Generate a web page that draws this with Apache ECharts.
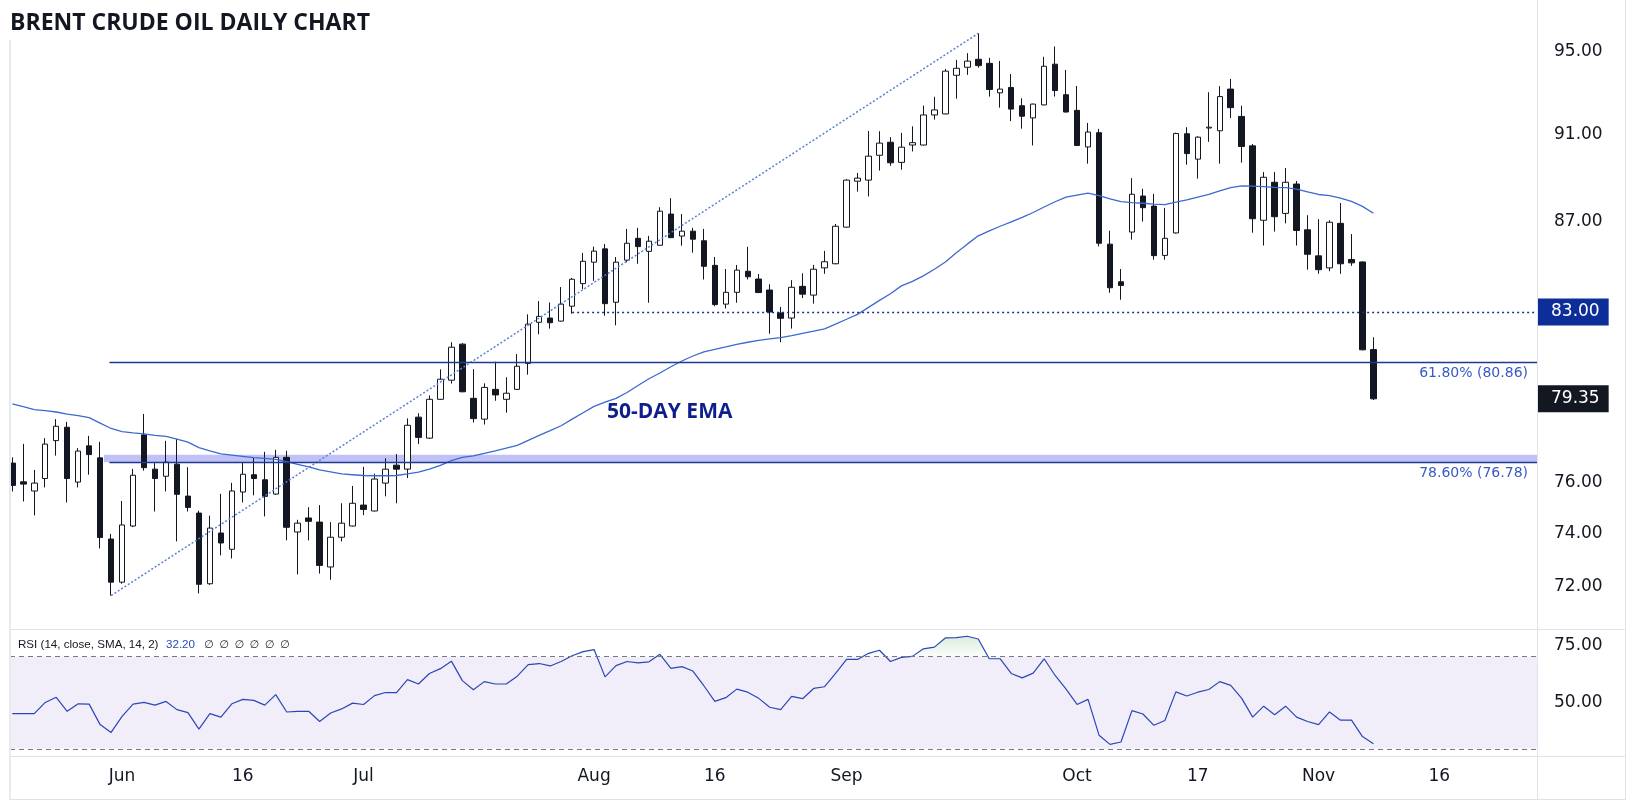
<!DOCTYPE html>
<html>
<head>
<meta charset="utf-8">
<script src="https://cdn.jsdelivr.net/npm/echarts@6/dist/echarts.min.js"></script>
<style>
html,body{margin:0;padding:0;background:#fff;}
#chart{width:1634px;height:802px;}
</style>
</head>
<body>
<div id="chart"></div>
<script>
const dates = [
'2023-05-18','2023-05-19','2023-05-22','2023-05-23','2023-05-24','2023-05-25','2023-05-26','2023-05-29','2023-05-30','2023-05-31',
'2023-06-01','2023-06-02','2023-06-05','2023-06-06','2023-06-07','2023-06-08','2023-06-09','2023-06-12','2023-06-13','2023-06-14',
'2023-06-15','2023-06-16','2023-06-19','2023-06-20','2023-06-21','2023-06-22','2023-06-23','2023-06-26','2023-06-27','2023-06-28',
'2023-06-29','2023-06-30','2023-07-03','2023-07-04','2023-07-05','2023-07-06','2023-07-07','2023-07-10','2023-07-11','2023-07-12',
'2023-07-13','2023-07-14','2023-07-17','2023-07-18','2023-07-19','2023-07-20','2023-07-21','2023-07-24','2023-07-25','2023-07-26',
'2023-07-27','2023-07-28','2023-07-31','2023-08-01','2023-08-02','2023-08-03','2023-08-04','2023-08-07','2023-08-08','2023-08-09',
'2023-08-10','2023-08-11','2023-08-14','2023-08-15','2023-08-16','2023-08-17','2023-08-18','2023-08-21','2023-08-22','2023-08-23',
'2023-08-24','2023-08-25','2023-08-28','2023-08-29','2023-08-30','2023-08-31','2023-09-01','2023-09-04','2023-09-05','2023-09-06',
'2023-09-07','2023-09-08','2023-09-11','2023-09-12','2023-09-13','2023-09-14','2023-09-15','2023-09-18','2023-09-19','2023-09-20',
'2023-09-21','2023-09-22','2023-09-25','2023-09-26','2023-09-27','2023-09-28','2023-09-29','2023-10-02','2023-10-03','2023-10-04',
'2023-10-05','2023-10-06','2023-10-09','2023-10-10','2023-10-11','2023-10-12','2023-10-13','2023-10-16','2023-10-17','2023-10-18',
'2023-10-19','2023-10-20','2023-10-23','2023-10-24','2023-10-25','2023-10-26','2023-10-27','2023-10-30','2023-10-31','2023-11-01',
'2023-11-02','2023-11-03','2023-11-06','2023-11-07','2023-11-08'];

const open = [
76.75,76.01,75.65,76.14,77.65,78.19,76.00,77.44,76.96,73.79,
72.16,74.29,77.88,76.51,76.23,76.71,75.45,74.79,72.10,74.02,
73.40,75.61,76.29,76.09,75.53,76.98,74.06,74.60,74.44,72.73,
73.86,74.29,75.10,74.87,75.96,76.67,76.51,78.60,77.75,79.33,
80.12,81.63,79.37,78.52,79.74,79.33,79.74,80.82,82.56,82.74,
82.61,83.25,84.23,85.17,85.76,83.42,85.26,86.23,85.65,85.92,
87.32,86.33,86.55,86.12,85.03,83.34,83.85,84.77,84.43,83.95,
82.96,82.74,84.11,83.73,84.92,85.10,86.73,88.82,88.87,90.02,
90.63,89.69,90.50,90.50,91.92,91.97,93.83,94.22,94.61,94.41,
92.98,93.24,92.36,91.78,92.40,94.37,92.89,92.14,90.41,91.08,
85.97,84.31,86.51,88.14,87.68,85.47,86.47,91.03,89.84,91.30,
91.17,93.16,91.85,90.46,87.04,88.77,87.35,88.69,86.61,85.45,
84.92,86.90,85.29,85.18,81.40];

const high = [
76.98,77.52,76.48,77.75,78.52,78.41,77.35,77.84,77.60,73.99,
75.26,76.52,78.73,76.75,77.64,77.71,76.59,74.88,74.69,75.54,
75.97,76.76,76.97,77.20,77.28,77.24,74.53,75.02,75.10,74.44,
75.17,75.85,76.60,76.33,76.94,77.11,78.55,78.76,79.49,80.57,
81.71,81.67,80.58,79.99,80.89,80.24,81.21,82.90,83.47,83.41,
84.08,84.48,85.58,85.86,85.98,85.40,86.65,86.70,86.34,87.63,
88.04,87.32,86.70,86.65,85.40,84.87,85.05,85.85,84.65,84.20,
83.22,84.38,84.68,85.05,85.67,86.87,88.91,89.20,91.16,91.15,
90.87,91.07,91.38,92.37,92.79,94.14,94.58,94.91,95.89,94.68,
94.53,93.89,92.72,92.46,94.73,95.24,94.09,93.31,91.54,91.26,
86.57,84.87,88.96,88.47,88.24,87.60,91.08,91.34,90.91,93.01,
93.30,93.65,92.36,90.55,89.24,89.24,89.43,88.83,87.27,87.09,
87.04,87.82,86.42,85.20,81.92];

const low = [
75.63,75.24,74.70,75.79,77.05,75.20,75.79,76.29,73.43,71.66,
72.10,74.25,76.45,74.85,75.63,73.70,74.85,71.74,72.06,73.17,
73.05,75.20,75.48,74.66,75.50,73.74,72.45,73.74,72.48,72.25,
73.70,74.27,74.71,74.85,75.44,75.17,76.16,77.51,77.72,79.31,
79.98,79.62,78.38,78.30,79.27,78.78,79.72,80.35,82.05,82.29,
82.59,82.93,83.99,84.35,82.84,82.43,85.17,85.10,83.40,85.90,
86.24,85.90,85.59,84.41,83.25,83.15,83.40,84.41,83.82,82.07,
81.71,82.29,83.60,83.36,84.66,85.08,86.71,88.34,88.12,89.31,
89.53,89.35,90.20,90.48,91.70,91.95,92.70,93.85,94.20,92.80,
92.27,91.63,91.27,90.48,92.38,92.80,92.04,90.46,89.63,85.87,
83.83,83.53,86.17,86.98,85.28,85.28,86.45,89.58,88.94,90.65,
89.63,91.77,89.68,86.48,85.91,86.53,86.90,85.91,84.84,84.66,
84.77,84.66,85.01,81.37,79.30];

const close = [
75.87,75.92,75.96,77.51,78.23,76.14,77.23,77.09,73.85,72.16,
74.33,76.27,76.57,76.14,76.79,75.52,75.01,72.08,74.21,73.64,
75.65,76.31,76.14,75.44,76.98,74.24,74.40,74.47,72.79,73.86,
74.40,75.17,74.93,76.12,76.51,76.51,78.27,77.78,79.33,80.16,
81.50,79.64,78.54,79.82,79.51,79.58,80.70,82.48,82.81,82.54,
83.34,84.42,85.21,85.66,83.36,85.17,86.01,85.86,86.10,87.45,
86.26,86.55,86.19,84.99,83.32,83.85,84.82,84.53,83.84,83.00,
82.73,84.07,83.77,84.86,85.19,86.77,88.87,88.96,89.98,90.59,
89.67,90.40,90.61,91.92,92.16,94.03,94.17,94.52,94.30,93.14,
93.16,92.20,91.86,92.44,94.27,93.09,92.06,90.48,91.11,86.01,
84.05,84.15,88.22,87.61,85.46,86.23,91.04,90.10,90.87,91.34,
92.80,92.27,90.43,87.11,89.00,87.20,88.77,86.58,85.52,84.84,
86.95,85.10,85.14,81.39,79.35];

const ema50 = [
79.14,79.03,78.91,78.87,78.81,78.72,78.66,78.58,78.36,78.14,
78.01,77.96,77.92,77.86,77.82,77.71,77.59,77.37,77.24,77.12,
77.07,77.02,76.97,76.94,76.90,76.81,76.70,76.60,76.48,76.40,
76.32,76.29,76.26,76.25,76.25,76.26,76.32,76.39,76.51,76.66,
76.85,76.98,77.04,77.14,77.24,77.35,77.46,77.66,77.86,78.05,
78.25,78.52,78.78,79.04,79.21,79.37,79.61,79.90,80.18,80.42,
80.68,80.92,81.13,81.30,81.41,81.51,81.62,81.71,81.79,81.85,
81.91,81.99,82.09,82.18,82.28,82.48,82.69,82.90,83.20,83.50,
83.79,84.13,84.33,84.57,84.86,85.18,85.59,85.97,86.34,86.56,
86.77,86.97,87.17,87.39,87.64,87.88,88.09,88.18,88.27,88.16,
88.01,87.88,87.84,87.81,87.77,87.75,87.86,87.96,88.09,88.22,
88.37,88.52,88.60,88.59,88.57,88.54,88.52,88.46,88.33,88.21,
88.16,88.04,87.90,87.67,87.36];

const rsi = [
45.27,45.27,45.27,50.15,52.38,46.30,49.56,49.41,40.53,37.12,
44.08,49.41,50.15,48.97,50.60,47.04,45.71,38.60,45.27,43.79,
49.56,51.49,51.04,48.97,53.56,46.01,46.30,46.30,41.86,45.56,
47.34,49.86,49.27,53.12,54.45,54.45,60.08,58.15,62.74,64.82,
68.07,59.63,55.63,59.19,58.15,58.15,61.56,66.59,67.04,66.00,
67.93,70.44,72.22,73.11,61.26,66.15,67.93,67.33,67.78,71.04,
64.96,65.70,63.78,57.41,50.60,52.22,55.93,54.60,51.93,48.08,
47.04,52.82,51.78,56.23,56.97,62.74,68.82,68.82,71.48,72.81,
67.93,69.70,70.15,73.41,74.15,78.15,78.29,78.89,77.70,69.11,
69.11,62.74,60.82,62.89,69.11,61.85,55.93,49.27,51.49,35.94,
31.94,32.97,46.60,45.12,40.23,42.30,54.75,52.97,54.60,55.78,
59.19,57.56,51.93,43.79,48.53,44.82,48.53,43.79,41.86,40.53,
46.01,42.45,42.45,35.34,32.20];

const priceTicks = [72, 74, 76, 87, 91, 95];
const rsiTicks = [50, 75];
const timeTickIdx = [10, 21, 32, 53, 64, 76, 97, 108, 119, 130];
const timeTickText = ['Jun', '16', 'Jul', 'Aug', '16', 'Sep', 'Oct', '17', 'Nov', '16'];

const fib618 = 80.86;
const fib786 = 76.78;
const fibBandTop = 77.08;
const level83 = 83.00;
const lastPrice = 79.35;
const trendFrom = [9, 71.66];
const trendTo = [88, 95.89];
const rsiUpper = 70, rsiLower = 30;
const lastRsi = '32.20';

// view extents (in bar-index units / price units)
const xMin = -0.21, xMax = 138.9;
const yMin = 70.43, yMax = 97.46;

const candleData = dates.map((d, i) => [i, open[i], close[i], low[i], high[i]]);
const emaData = ema50.map((v, i) => [i, v]);
const rsiData = rsi.map((v, i) => [i, v]);

const TXT = '#131722';
const AXF = 'DejaVu Sans';
const SMALLF = '11.6px "Liberation Sans", "DejaVu Sans"';

const chart = echarts.init(document.getElementById('chart'), null, {renderer: 'canvas'});

const borderLines = [
  [1537.5, 0, 1537.5, 800],
  [10, 629.5, 1626, 629.5],
  [10, 756.5, 1626, 756.5],
  [10, 799.5, 1626, 799.5],
  [1625.5, 0, 1625.5, 800]
].map(s => ({type: 'line', silent: true, z: 50, shape: {x1: s[0], y1: s[1], x2: s[2], y2: s[3]}, style: {stroke: '#e0e3eb', lineWidth: 1}}));

const nullGlyphs = [0,1,2,3,4,5].map(i => ({
  type: 'text', x: 204 + i * 15.2, y: 645, z: 60,
  style: {text: '\u2205', fill: TXT, font: '11px "DejaVu Sans"', verticalAlign: 'middle'}
}));

const option = {
  animation: false,
  backgroundColor: '#ffffff',
  grid: [
    {left: 10, width: 1527, top: 2, height: 627},
    {left: 10, width: 1527, top: 630, height: 126}
  ],
  xAxis: [
    {gridIndex: 0, type: 'value', min: xMin, max: xMax, show: false},
    {gridIndex: 1, type: 'value', min: xMin, max: xMax,
     axisLine: {show: false}, axisTick: {show: false}, splitLine: {show: false},
     axisLabel: {customValues: timeTickIdx, formatter: v => timeTickText[timeTickIdx.indexOf(v)] || '',
       color: TXT, fontSize: 17, fontFamily: AXF, margin: 12}}
  ],
  yAxis: [
    {gridIndex: 0, type: 'log', logBase: 10, min: yMin, max: yMax, position: 'right',
     axisLine: {show: false}, axisTick: {show: false}, splitLine: {show: false},
     axisLabel: {customValues: priceTicks, formatter: v => Number(v).toFixed(2), color: TXT, fontSize: 17, fontFamily: AXF, margin: 17}},
    {gridIndex: 1, type: 'value', min: 26.9, max: 81.6, position: 'right',
     axisLine: {show: false}, axisTick: {show: false}, splitLine: {show: false},
     axisLabel: {customValues: rsiTicks, formatter: v => Number(v).toFixed(2), color: TXT, fontSize: 17, fontFamily: AXF, margin: 17}}
  ],
  series: [
    {
      name: 'Brent', type: 'candlestick', xAxisIndex: 0, yAxisIndex: 0,
      data: candleData, barWidth: 6, clip: true,
      itemStyle: {color: '#ffffff', color0: TXT, borderColor: TXT, borderColor0: TXT, borderWidth: 1},
      markArea: {
        silent: true,
        itemStyle: {color: 'rgba(88,92,235,0.38)'},
        data: [[{coord: [8.35, fibBandTop]}, {coord: [xMax, fib786]}]]
      },
      markLine: {
        silent: true, symbol: ['none', 'none'],
        label: {show: false},
        data: [
          [{coord: trendFrom, lineStyle: {color: '#5b7ed8', type: [2, 2], width: 1.5}}, {coord: trendTo}],
          [{coord: [8.85, fib618], lineStyle: {color: '#1f3a8f', type: 'solid', width: 1.3},
            label: {show: true, position: 'insideEndBottom', formatter: '61.80% (80.86)', color: '#3858c8', fontSize: 14, fontFamily: AXF, distance: [9, 4]}},
           {coord: [xMax, fib618]}],
          [{coord: [8.85, fib786], lineStyle: {color: '#1f3a8f', type: 'solid', width: 1.3},
            label: {show: true, position: 'insideEndBottom', formatter: '78.60% (76.78)', color: '#3858c8', fontSize: 14, fontFamily: AXF, distance: [9, 4]}},
           {coord: [xMax, fib786]}],
          [{coord: [51, level83], lineStyle: {color: '#1b2f91', type: [2, 3], width: 1.3},
            label: {show: true, position: 'end', formatter: level83.toFixed(2), color: '#ffffff', backgroundColor: '#0d2e98',
              fontSize: 17, fontFamily: AXF, padding: [5, 9, 5, 13], distance: 1}},
           {coord: [xMax, level83]}],
          {yAxis: lastPrice, lineStyle: {color: 'rgba(0,0,0,0)', width: 0, opacity: 1},
           label: {show: true, position: 'end', formatter: lastPrice.toFixed(2), color: '#ffffff', backgroundColor: TXT,
             fontSize: 17, fontFamily: AXF, padding: [5, 9, 5, 13], distance: 1}}
        ]
      }
    },
    {
      name: '50-day EMA', type: 'line', xAxisIndex: 0, yAxisIndex: 0, data: emaData,
      showSymbol: false, smooth: false, clip: true,
      lineStyle: {color: '#3b6ad0', width: 1.3}
    },
    {
      name: 'RSI', type: 'line', xAxisIndex: 1, yAxisIndex: 1, data: rsiData,
      showSymbol: false, clip: true,
      lineStyle: {color: '#2b46b8', width: 1.2},
      areaStyle: {origin: 'start', color: {type: 'linear', x: 0, y: 630, x2: 0, y2: 657, global: true,
        colorStops: [{offset: 0, color: 'rgba(76,175,80,0.38)'}, {offset: 0.97, color: 'rgba(76,175,80,0.04)'}, {offset: 1, color: 'rgba(76,175,80,0)'}]}},
      markArea: {silent: true, itemStyle: {color: 'rgba(126,87,194,0.1)'}, data: [[{yAxis: rsiUpper}, {yAxis: rsiLower}]]},
      markLine: {silent: true, symbol: ['none', 'none'], label: {show: false},
        lineStyle: {color: '#787b86', type: [5, 4], width: 1},
        data: [{yAxis: rsiUpper}, {yAxis: rsiLower}]}
    }
  ],
  graphic: [
    {type: 'line', silent: true, z: 50, shape: {x1: 10, y1: 40, x2: 10, y2: 800}, style: {stroke: '#e9e9ef', lineWidth: 2}},
    ...borderLines,
    {type: 'text', x: 10, y: 23, z: 60, style: {text: 'BRENT CRUDE OIL DAILY CHART', fill: TXT, font: 'bold 23px "Open Sans"', verticalAlign: 'middle'}},
    {type: 'text', x: 607, y: 411.6, z: 60, style: {text: '50-DAY EMA', fill: '#0e1f8d', font: 'bold 21px "Open Sans"', verticalAlign: 'middle'}},
    {type: 'text', x: 18, y: 645, z: 60, style: {text: 'RSI (14, close, SMA, 14, 2)', fill: TXT, font: SMALLF, verticalAlign: 'middle'}},
    {type: 'text', x: 166, y: 645, z: 60, style: {text: lastRsi, fill: '#2a4bc0', font: SMALLF, verticalAlign: 'middle'}},
    ...nullGlyphs
  ]
};

chart.setOption(option);
</script>
</body>
</html>
